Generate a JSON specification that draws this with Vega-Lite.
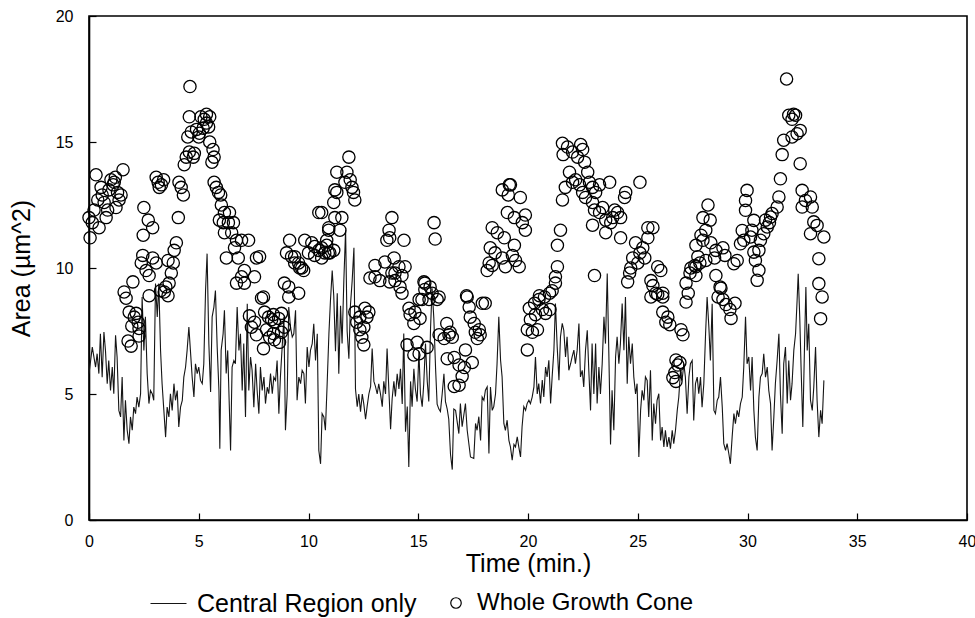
{
"$schema": "https://vega.github.io/schema/vega-lite/v6.json",
"width": 878, "height": 504,
"autosize": "none",
"padding": {"left": 89, "top": 16, "right": 8, "bottom": 98},
"background": "white",
"config": {
  "font": "Liberation Sans",
  "view": {"stroke": "black", "strokeWidth": 1.6},
  "axis": {"domainColor": "black", "domainWidth": 1.6, "tickColor": "black", "tickWidth": 1.2, "tickSize": -7, "grid": false,
    "labelFont": "Liberation Sans", "labelFontSize": 16, "labelColor": "black",
    "titleFont": "Liberation Sans", "titleFontSize": 25, "titleFontWeight": "normal", "titleColor": "black"}
},
"datasets": {
"line": [
{"t":0.00,"a":5.81},{"t":0.15,"a":6.86},{"t":0.30,"a":6.07},{"t":0.37,"a":6.6},{"t":0.45,"a":5.81},{"t":0.52,"a":7.39},{"t":0.60,"a":5.67},{"t":0.68,"a":7.46},{"t":0.75,"a":6.73},{"t":0.83,"a":5.41},{"t":0.90,"a":6.33},{"t":0.98,"a":5.14},{"t":1.06,"a":6.07},{"t":1.13,"a":5.01},{"t":1.21,"a":7.33},{"t":1.28,"a":6.47},{"t":1.36,"a":4.35},{"t":1.44,"a":4.09},{"t":1.51,"a":5.67},{"t":1.59,"a":3.16},{"t":1.66,"a":4.75},{"t":1.74,"a":3.56},{"t":1.82,"a":3.03},{"t":1.89,"a":4.09},{"t":1.97,"a":3.56},{"t":2.04,"a":4.48},{"t":2.12,"a":4.22},{"t":2.19,"a":4.88},{"t":2.27,"a":4.48},{"t":2.35,"a":5.01},{"t":2.42,"a":8.85},{"t":2.50,"a":6.73},{"t":2.57,"a":8.06},{"t":2.65,"a":5.81},{"t":2.73,"a":4.62},{"t":2.80,"a":5.14},{"t":2.88,"a":5.01},{"t":2.95,"a":4.75},{"t":3.03,"a":9.38},{"t":3.11,"a":8.06},{"t":3.18,"a":9.38},{"t":3.26,"a":6.73},{"t":3.33,"a":5.41},{"t":3.41,"a":4.35},{"t":3.49,"a":3.29},{"t":3.56,"a":4.48},{"t":3.64,"a":4.09},{"t":3.71,"a":5.01},{"t":3.79,"a":4.35},{"t":3.87,"a":5.41},{"t":3.94,"a":4.75},{"t":4.02,"a":5.14},{"t":4.09,"a":3.69},{"t":4.17,"a":4.48},{"t":4.25,"a":4.75},{"t":4.32,"a":5.67},{"t":4.40,"a":6.07},{"t":4.47,"a":6.73},{"t":4.55,"a":7.66},{"t":4.62,"a":6.73},{"t":4.70,"a":5.67},{"t":4.78,"a":4.88},{"t":4.85,"a":6.2},{"t":4.93,"a":5.81},{"t":5.00,"a":6.07},{"t":5.08,"a":5.54},{"t":5.16,"a":5.41},{"t":5.23,"a":6.2},{"t":5.31,"a":9.11},{"t":5.38,"a":10.57},{"t":5.46,"a":7.0},{"t":5.54,"a":5.08},{"t":5.61,"a":8.06},{"t":5.69,"a":8.45},{"t":5.76,"a":9.11},{"t":5.84,"a":6.86},{"t":5.92,"a":5.14},{"t":5.96,"a":2.83},{"t":6.02,"a":6.73},{"t":6.11,"a":7.39},{"t":6.17,"a":8.32},{"t":6.25,"a":5.81},{"t":6.32,"a":6.73},{"t":6.45,"a":2.76},{"t":6.52,"a":6.07},{"t":6.60,"a":6.33},{"t":6.67,"a":6.2},{"t":6.75,"a":8.45},{"t":6.83,"a":6.73},{"t":6.90,"a":7.39},{"t":6.98,"a":5.14},{"t":7.05,"a":7.0},{"t":7.13,"a":4.09},{"t":7.21,"a":8.58},{"t":7.28,"a":5.14},{"t":7.36,"a":6.47},{"t":7.43,"a":5.94},{"t":7.51,"a":4.48},{"t":7.59,"a":6.2},{"t":7.66,"a":5.14},{"t":7.74,"a":4.22},{"t":7.81,"a":6.07},{"t":7.89,"a":5.14},{"t":7.97,"a":5.67},{"t":8.04,"a":4.62},{"t":8.12,"a":5.27},{"t":8.19,"a":5.01},{"t":8.27,"a":5.81},{"t":8.35,"a":5.01},{"t":8.42,"a":5.67},{"t":8.50,"a":5.54},{"t":8.57,"a":6.33},{"t":8.65,"a":4.22},{"t":8.72,"a":5.67},{"t":8.80,"a":6.86},{"t":8.88,"a":8.06},{"t":8.95,"a":3.56},{"t":9.03,"a":5.01},{"t":9.10,"a":8.45},{"t":9.18,"a":7.66},{"t":9.26,"a":7.26},{"t":9.33,"a":7.39},{"t":9.41,"a":8.32},{"t":9.48,"a":4.75},{"t":9.56,"a":5.67},{"t":9.64,"a":5.41},{"t":9.71,"a":5.94},{"t":9.79,"a":5.81},{"t":9.86,"a":4.62},{"t":9.94,"a":6.86},{"t":10.02,"a":6.07},{"t":10.09,"a":6.73},{"t":10.17,"a":7.0},{"t":10.24,"a":7.79},{"t":10.32,"a":6.33},{"t":10.40,"a":7.39},{"t":10.47,"a":2.76},{"t":10.55,"a":2.23},{"t":10.62,"a":4.22},{"t":10.70,"a":4.09},{"t":10.77,"a":3.56},{"t":10.85,"a":5.41},{"t":10.93,"a":7.39},
{"t":11.00,"a":8.7},{"t":11.08,"a":9.9},{"t":11.15,"a":8.9},{"t":11.23,"a":6.7},{"t":11.31,"a":9.0},{"t":11.38,"a":5.8},{"t":11.46,"a":8.5},{"t":11.53,"a":7.0},{"t":11.61,"a":9.5},{"t":11.69,"a":11.5},{"t":11.76,"a":7.5},{"t":11.84,"a":6.4},{"t":11.91,"a":8.5},{"t":11.99,"a":9.5},{"t":12.07,"a":10.8},{"t":12.14,"a":5.2},{"t":12.22,"a":4.5},{"t":12.29,"a":5.0},{"t":12.37,"a":4.3},{"t":12.45,"a":5.0},{"t":12.52,"a":4.6},{"t":12.60,"a":4.0},{"t":12.67,"a":4.5},{"t":12.75,"a":5.0},{"t":12.83,"a":5.3},{"t":12.90,"a":6.8},{"t":12.98,"a":5.5},{"t":13.05,"a":5.3},{"t":13.13,"a":5.0},{"t":13.20,"a":5.4},{"t":13.28,"a":5.0},{"t":13.36,"a":4.5},{"t":13.43,"a":5.5},{"t":13.51,"a":5.0},{"t":13.58,"a":6.8},{"t":13.66,"a":5.2},{"t":13.74,"a":3.6},{"t":13.81,"a":4.8},{"t":13.89,"a":5.5},{"t":13.96,"a":4.9},{"t":14.04,"a":5.8},{"t":14.12,"a":5.2},{"t":14.19,"a":6.0},{"t":14.27,"a":4.6},{"t":14.34,"a":7.4},{"t":14.42,"a":3.5},{"t":14.50,"a":4.5},{"t":14.57,"a":2.1},{"t":14.65,"a":5.5},{"t":14.72,"a":4.5},{"t":14.80,"a":6.0},{"t":14.87,"a":5.2},{"t":14.95,"a":4.7},{"t":15.03,"a":6.7},{"t":15.10,"a":5.0},{"t":15.18,"a":4.5},{"t":15.25,"a":5.4},{"t":15.33,"a":7.0},{"t":15.41,"a":5.5},{"t":15.48,"a":4.7},{"t":15.56,"a":7.6},{"t":15.63,"a":9.2},{"t":15.71,"a":8.0},{"t":15.79,"a":6.0},{"t":15.86,"a":4.6},{"t":15.94,"a":4.4},{"t":16.01,"a":4.3},{"t":16.09,"a":5.0},{"t":16.17,"a":5.8},{"t":16.24,"a":4.7},{"t":16.32,"a":4.4},{"t":16.39,"a":4.0},{"t":16.47,"a":2.6},{"t":16.55,"a":2.0},{"t":16.62,"a":4.4},
{"t":16.70,"a":4.35},{"t":16.85,"a":3.43},{"t":16.92,"a":4.62},{"t":17.00,"a":3.7},{"t":17.15,"a":4.62},{"t":17.23,"a":3.56},{"t":17.38,"a":2.5},{"t":17.53,"a":2.44},{"t":17.61,"a":3.83},{"t":17.68,"a":3.56},{"t":17.76,"a":4.1},{"t":17.84,"a":3.16},{"t":17.91,"a":4.88},{"t":17.99,"a":4.75},{"t":18.06,"a":5.15},{"t":18.14,"a":5.28},{"t":18.22,"a":2.64},{"t":18.29,"a":5.28},{"t":18.37,"a":4.35},{"t":18.44,"a":4.5},{"t":18.52,"a":5.0},{"t":18.59,"a":6.2},{"t":18.67,"a":8.06},{"t":18.75,"a":6.34},{"t":18.82,"a":5.68},{"t":18.90,"a":3.83},{"t":18.97,"a":3.56},{"t":19.05,"a":3.96},{"t":19.13,"a":3.16},{"t":19.20,"a":2.9},{"t":19.28,"a":2.37},{"t":19.36,"a":3.0},{"t":19.43,"a":2.9},{"t":19.51,"a":3.3},{"t":19.58,"a":2.9},{"t":19.66,"a":2.5},{"t":19.73,"a":3.7},{"t":19.81,"a":4.5},{"t":19.89,"a":4.35},{"t":19.96,"a":4.62},{"t":20.04,"a":4.75},{"t":20.11,"a":4.62},{"t":20.19,"a":4.88},{"t":20.27,"a":5.28},{"t":20.34,"a":6.47},{"t":20.42,"a":5.0},{"t":20.49,"a":5.41},{"t":20.57,"a":4.62},{"t":20.65,"a":5.55},{"t":20.72,"a":4.88},{"t":20.80,"a":6.07},{"t":20.87,"a":5.68},{"t":20.95,"a":6.34},{"t":21.03,"a":4.62},{"t":21.10,"a":5.68},{"t":21.18,"a":6.74},{"t":21.25,"a":8.59},{"t":21.33,"a":6.87},{"t":21.41,"a":5.55},{"t":21.48,"a":7.27},{"t":21.56,"a":7.8},{"t":21.63,"a":7.53},{"t":21.71,"a":6.47},{"t":21.78,"a":7.27},{"t":21.86,"a":5.94},{"t":21.94,"a":6.2},{"t":22.01,"a":6.47},{"t":22.09,"a":6.74},{"t":22.16,"a":6.2},{"t":22.24,"a":6.74},{"t":22.32,"a":7.8},{"t":22.39,"a":5.68},{"t":22.47,"a":5.94},{"t":22.54,"a":5.28},{"t":22.62,"a":6.74},{"t":22.70,"a":7.53},{"t":22.77,"a":5.94},{"t":22.85,"a":4.35},{"t":22.92,"a":7.0},{"t":23.00,"a":5.0},{"t":23.08,"a":7.0},{"t":23.15,"a":4.62},{"t":23.23,"a":6.07},{"t":23.30,"a":5.0},{"t":23.38,"a":6.2},{"t":23.46,"a":8.06},{"t":23.53,"a":7.0},{"t":23.61,"a":9.78},{"t":23.68,"a":6.74},{"t":23.76,"a":3.0},{"t":23.83,"a":5.15},{"t":23.91,"a":3.56},{"t":23.99,"a":6.47},{"t":24.06,"a":7.27},{"t":24.14,"a":6.2},{"t":24.21,"a":7.0},{"t":24.29,"a":8.59},{"t":24.37,"a":6.74},{"t":24.44,"a":8.85},{"t":24.52,"a":5.41},{"t":24.59,"a":7.27},{"t":24.67,"a":6.2},{"t":24.75,"a":7.0},{"t":24.82,"a":5.68},{"t":24.90,"a":5.0},{"t":24.97,"a":5.41},{"t":25.05,"a":2.5},{"t":25.13,"a":4.35},{"t":25.20,"a":5.15},{"t":25.28,"a":4.75},{"t":25.35,"a":5.68},
{"t":25.43,"a":5.54},{"t":25.50,"a":4.09},{"t":25.58,"a":5.94},{"t":25.66,"a":3.16},{"t":25.73,"a":4.62},{"t":25.81,"a":3.82},{"t":25.88,"a":4.75},{"t":25.96,"a":5.01},{"t":26.04,"a":3.16},{"t":26.11,"a":3.69},{"t":26.19,"a":2.9},{"t":26.26,"a":3.56},{"t":26.34,"a":2.9},{"t":26.42,"a":3.29},{"t":26.49,"a":2.83},{"t":26.57,"a":3.56},{"t":26.64,"a":3.03},{"t":26.72,"a":3.56},{"t":26.80,"a":4.35},{"t":26.87,"a":4.88},{"t":26.95,"a":5.94},{"t":27.02,"a":5.54},{"t":27.10,"a":6.2},{"t":27.17,"a":5.67},{"t":27.25,"a":4.22},{"t":27.33,"a":5.67},{"t":27.40,"a":6.2},{"t":27.48,"a":6.33},{"t":27.55,"a":3.95},{"t":27.63,"a":5.41},{"t":27.71,"a":5.67},{"t":27.78,"a":5.01},{"t":27.86,"a":5.67},{"t":27.93,"a":4.48},{"t":28.01,"a":5.41},{"t":28.09,"a":7.39},{"t":28.16,"a":8.85},{"t":28.24,"a":7.66},{"t":28.31,"a":6.33},{"t":28.39,"a":8.58},{"t":28.47,"a":4.35},{"t":28.54,"a":4.22},{"t":28.62,"a":4.75},{"t":28.69,"a":4.88},{"t":28.77,"a":5.67},{"t":28.85,"a":4.48},{"t":28.92,"a":3.03},{"t":29.00,"a":2.76},{"t":29.07,"a":3.03},{"t":29.15,"a":2.63},{"t":29.22,"a":2.23},{"t":29.30,"a":3.29},{"t":29.38,"a":4.22},{"t":29.45,"a":3.82},{"t":29.53,"a":4.35},{"t":29.60,"a":4.09},{"t":29.68,"a":4.62},{"t":29.76,"a":4.88},{"t":29.83,"a":6.07},{"t":29.91,"a":8.06},{"t":29.98,"a":6.2},{"t":30.06,"a":6.47},{"t":30.14,"a":5.14},{"t":30.21,"a":6.47},{"t":30.29,"a":4.35},{"t":30.36,"a":3.29},{"t":30.44,"a":2.76},{"t":30.52,"a":4.88},{"t":30.59,"a":5.67},{"t":30.67,"a":5.81},{"t":30.74,"a":6.6},{"t":30.82,"a":5.67},{"t":30.90,"a":6.07},{"t":30.97,"a":5.14},{"t":31.05,"a":4.62},{"t":31.12,"a":2.76},{"t":31.20,"a":4.09},{"t":31.27,"a":5.41},{"t":31.35,"a":6.33},{"t":31.43,"a":7.39},{"t":31.50,"a":5.01},{"t":31.58,"a":3.42},{"t":31.65,"a":6.2},{"t":31.73,"a":6.86},{"t":31.81,"a":4.62},{"t":31.88,"a":6.33},{"t":31.96,"a":4.75},{"t":32.03,"a":5.41},{"t":32.11,"a":6.73},{"t":32.19,"a":7.39},{"t":32.26,"a":8.72},{"t":32.31,"a":9.77},{"t":32.38,"a":8.06},{"t":32.44,"a":6.07},{"t":32.52,"a":3.69},{"t":32.60,"a":7.0},{"t":32.66,"a":9.25},{"t":32.72,"a":6.73},{"t":32.79,"a":7.79},{"t":32.87,"a":4.75},{"t":32.95,"a":4.35},{"t":33.02,"a":5.28},{"t":33.10,"a":6.86},{"t":33.17,"a":4.75},{"t":33.25,"a":3.29},{"t":33.33,"a":4.35},{"t":33.40,"a":3.82},{"t":33.48,"a":5.54}
],
"pts": [
{"t":0.0,"a":12.0},{"t":0.05,"a":11.2},{"t":0.15,"a":11.8},{"t":0.23,"a":12.3},{"t":0.32,"a":13.7},{"t":0.4,"a":12.7},{"t":0.46,"a":11.6},{"t":0.55,"a":13.2},{"t":0.6,"a":12.9},{"t":0.69,"a":12.6},{"t":0.78,"a":12.0},{"t":0.85,"a":12.3},{"t":0.91,"a":13.1},{"t":1.0,"a":13.5},{"t":1.1,"a":13.3},{"t":1.15,"a":13.4},{"t":1.2,"a":13.6},{"t":1.23,"a":12.4},{"t":1.3,"a":13.0},{"t":1.37,"a":12.7},{"t":1.46,"a":12.9},{"t":1.55,"a":13.9},
{"t":1.6,"a":9.05},{"t":1.69,"a":8.8},{"t":1.83,"a":8.25},{"t":2.06,"a":8.05},{"t":2.24,"a":7.85},{"t":2.28,"a":7.6},{"t":1.78,"a":7.1},{"t":1.92,"a":6.9},{"t":2.0,"a":9.45},{"t":2.28,"a":7.3},{"t":2.15,"a":8.2},{"t":1.95,"a":7.7},
{"t":2.5,"a":12.4},{"t":2.7,"a":11.9},{"t":2.9,"a":11.6},{"t":2.47,"a":11.3},{"t":2.38,"a":10.2},{"t":2.6,"a":9.9},{"t":2.74,"a":9.7},{"t":2.9,"a":10.4},{"t":3.06,"a":10.2},{"t":2.74,"a":8.9},{"t":3.06,"a":13.6},{"t":3.15,"a":13.4},{"t":3.3,"a":13.3},{"t":3.4,"a":13.5},{"t":3.2,"a":13.2},{"t":3.43,"a":9.05},{"t":3.6,"a":8.9},{"t":3.5,"a":9.25},{"t":3.65,"a":9.4},{"t":3.75,"a":9.8},{"t":3.84,"a":10.2},{"t":3.88,"a":10.7},{"t":3.98,"a":11.0},{"t":4.07,"a":12.0},{"t":2.45,"a":10.5},{"t":3.26,"a":9.1},{"t":3.6,"a":10.3},
{"t":4.1,"a":13.4},{"t":4.2,"a":13.2},{"t":4.3,"a":12.9},{"t":4.34,"a":14.1},{"t":4.43,"a":14.4},{"t":4.57,"a":14.6},{"t":4.75,"a":14.4},{"t":4.6,"a":17.2},{"t":4.57,"a":16.0},{"t":5.1,"a":16.0},{"t":5.35,"a":16.1},{"t":5.5,"a":16.0},{"t":4.5,"a":15.2},{"t":4.66,"a":15.4},{"t":4.9,"a":15.5},{"t":5.03,"a":15.35},{"t":5.2,"a":15.55},{"t":5.35,"a":15.75},{"t":5.45,"a":15.6},{"t":5.5,"a":15.0},{"t":5.65,"a":14.7},{"t":5.7,"a":14.4},{"t":5.6,"a":14.2},{"t":4.8,"a":14.55},{"t":5.25,"a":15.9},{"t":5.0,"a":15.2},
{"t":5.7,"a":13.4},{"t":5.9,"a":13.0},{"t":6.03,"a":12.5},{"t":6.17,"a":12.2},{"t":6.4,"a":12.2},{"t":5.94,"a":11.9},{"t":6.12,"a":11.8},{"t":6.35,"a":11.8},{"t":6.58,"a":11.8},{"t":6.17,"a":11.4},{"t":6.5,"a":11.4},{"t":6.72,"a":11.1},{"t":6.95,"a":11.1},{"t":7.27,"a":11.1},{"t":6.26,"a":10.4},{"t":6.63,"a":10.8},{"t":6.8,"a":10.4},{"t":7.08,"a":9.9},{"t":6.95,"a":9.65},{"t":6.72,"a":9.4},{"t":7.08,"a":9.4},{"t":7.54,"a":9.65},{"t":7.63,"a":10.4},{"t":7.77,"a":10.45},{"t":7.95,"a":8.85},{"t":7.86,"a":8.8},{"t":5.8,"a":13.2},{"t":6.0,"a":12.9},
{"t":7.31,"a":8.1},{"t":7.54,"a":7.85},{"t":7.4,"a":7.65},{"t":7.63,"a":7.35},{"t":8.0,"a":8.25},{"t":8.18,"a":8.05},{"t":8.32,"a":7.95},{"t":8.4,"a":8.15},{"t":8.45,"a":7.85},{"t":8.64,"a":8.0},{"t":8.77,"a":8.2},{"t":8.09,"a":7.55},{"t":8.23,"a":7.25},{"t":8.45,"a":7.15},{"t":8.77,"a":7.45},{"t":8.9,"a":7.65},{"t":7.95,"a":6.8},{"t":8.4,"a":7.4},{"t":8.68,"a":7.05},{"t":8.9,"a":9.4},{"t":9.1,"a":9.25},{"t":9.55,"a":9.0},{"t":9.1,"a":8.85},
{"t":9.0,"a":10.6},{"t":9.37,"a":10.45},{"t":9.55,"a":10.2},{"t":9.69,"a":10.0},{"t":10.0,"a":10.6},{"t":10.28,"a":10.5},{"t":10.6,"a":10.4},{"t":10.9,"a":10.6},{"t":9.14,"a":11.1},{"t":9.23,"a":10.45},{"t":9.37,"a":10.2},{"t":9.6,"a":10.0},{"t":9.78,"a":9.9},{"t":9.83,"a":11.1},{"t":10.15,"a":11.0},{"t":10.28,"a":10.85},{"t":10.47,"a":10.7},{"t":10.6,"a":10.8},{"t":10.83,"a":10.9},{"t":10.97,"a":10.6},{"t":10.47,"a":12.2},{"t":10.92,"a":11.5},
{"t":11.2,"a":13.1},{"t":10.6,"a":12.2},{"t":10.92,"a":11.6},{"t":11.2,"a":12.0},{"t":11.43,"a":11.5},{"t":10.83,"a":11.1},{"t":11.15,"a":10.7},{"t":10.74,"a":10.6},{"t":11.52,"a":12.0},{"t":11.29,"a":13.0},{"t":11.29,"a":13.8},{"t":11.75,"a":13.8},{"t":11.84,"a":14.4},{"t":11.98,"a":13.2},{"t":12.11,"a":12.7},{"t":11.15,"a":12.6},{"t":11.66,"a":13.4},{"t":11.9,"a":13.5},{"t":12.05,"a":13.0},
{"t":12.11,"a":8.25},{"t":12.34,"a":8.05},{"t":12.57,"a":8.4},{"t":12.75,"a":8.25},{"t":12.2,"a":7.85},{"t":12.34,"a":7.55},{"t":12.43,"a":7.25},{"t":12.52,"a":6.95},{"t":12.66,"a":8.05},{"t":12.52,"a":7.65},
{"t":12.8,"a":9.6},{"t":13.03,"a":9.65},{"t":13.25,"a":9.5},{"t":13.48,"a":10.24},{"t":13.9,"a":10.4},{"t":14.12,"a":10.05},{"t":14.26,"a":9.7},{"t":14.4,"a":10.05},{"t":14.17,"a":9.25},{"t":13.7,"a":9.45},{"t":13.94,"a":9.8},{"t":13.03,"a":10.1},{"t":14.26,"a":9.0},{"t":13.8,"a":9.8},{"t":13.94,"a":9.5},{"t":13.8,"a":12.0},{"t":13.67,"a":11.5},{"t":13.57,"a":11.1},{"t":14.35,"a":11.1},{"t":13.7,"a":11.2},
{"t":14.58,"a":8.4},{"t":14.63,"a":8.15},{"t":14.85,"a":8.25},{"t":15.08,"a":8.0},{"t":15.04,"a":8.75},{"t":15.26,"a":9.45},{"t":15.3,"a":9.15},{"t":15.54,"a":9.25},{"t":15.17,"a":8.75},{"t":15.49,"a":8.75},{"t":15.86,"a":8.75},{"t":15.63,"a":9.0},{"t":14.8,"a":7.8},{"t":14.49,"a":6.95},{"t":14.95,"a":7.05},{"t":14.8,"a":6.55},{"t":15.04,"a":6.6},{"t":15.4,"a":6.85},{"t":15.95,"a":7.35},{"t":16.18,"a":7.2},{"t":16.4,"a":7.35},{"t":16.45,"a":7.45},{"t":16.3,"a":7.8},{"t":16.55,"a":7.25},{"t":15.72,"a":11.8},{"t":15.77,"a":11.15},{"t":15.3,"a":9.4},{"t":15.95,"a":8.85},
{"t":16.32,"a":6.4},{"t":16.64,"a":6.45},{"t":17.15,"a":6.75},{"t":17.46,"a":6.25},{"t":16.86,"a":6.15},{"t":16.64,"a":5.3},{"t":16.86,"a":5.35},{"t":17.0,"a":5.7},{"t":17.1,"a":6.05},{"t":17.23,"a":8.85},{"t":17.32,"a":8.45},{"t":17.37,"a":8.05},{"t":17.55,"a":7.8},{"t":17.6,"a":7.45},{"t":17.69,"a":7.2},{"t":17.82,"a":7.35},{"t":17.92,"a":8.6},{"t":18.05,"a":8.6},{"t":17.78,"a":7.55},{"t":17.2,"a":8.9},
{"t":18.83,"a":13.1},{"t":19.2,"a":13.3},{"t":19.65,"a":12.8},{"t":19.06,"a":12.2},{"t":19.38,"a":12.0},{"t":19.88,"a":12.1},{"t":19.74,"a":11.8},{"t":19.88,"a":11.5},{"t":18.37,"a":11.6},{"t":18.6,"a":11.4},{"t":18.92,"a":11.2},{"t":19.38,"a":10.9},{"t":18.28,"a":10.8},{"t":18.5,"a":10.6},{"t":18.83,"a":10.4},{"t":18.23,"a":10.2},{"t":18.14,"a":9.9},{"t":18.97,"a":10.05},{"t":19.43,"a":10.3},{"t":19.6,"a":10.05},{"t":18.37,"a":10.1},{"t":19.29,"a":10.5},{"t":19.1,"a":12.9},{"t":19.15,"a":13.3},
{"t":19.97,"a":7.55},{"t":20.2,"a":7.45},{"t":20.43,"a":7.55},{"t":19.97,"a":6.75},{"t":20.06,"a":8.4},{"t":20.3,"a":8.6},{"t":20.5,"a":8.75},{"t":20.75,"a":8.85},{"t":20.98,"a":9.0},{"t":21.1,"a":9.1},{"t":21.25,"a":9.4},{"t":21.25,"a":9.65},{"t":21.34,"a":10.05},{"t":20.66,"a":8.35},{"t":20.8,"a":8.2},{"t":21.0,"a":8.35},{"t":20.34,"a":8.15},{"t":20.11,"a":7.95},{"t":21.34,"a":10.9},{"t":21.48,"a":11.5},{"t":21.57,"a":12.7},{"t":20.52,"a":8.9},
{"t":21.57,"a":14.95},{"t":21.8,"a":14.8},{"t":22.03,"a":14.6},{"t":22.4,"a":14.9},{"t":22.49,"a":14.7},{"t":22.26,"a":14.4},{"t":22.58,"a":14.2},{"t":21.89,"a":13.8},{"t":22.03,"a":13.4},{"t":22.17,"a":13.5},{"t":22.35,"a":13.3},{"t":22.72,"a":13.8},{"t":22.8,"a":13.4},{"t":21.7,"a":13.2},{"t":22.49,"a":13.0},{"t":22.94,"a":13.2},{"t":23.08,"a":13.0},{"t":23.26,"a":13.3},{"t":23.72,"a":13.4},{"t":22.62,"a":12.8},{"t":22.94,"a":12.6},{"t":23.03,"a":12.3},{"t":23.26,"a":12.2},{"t":23.4,"a":12.4},{"t":23.54,"a":11.9},{"t":23.86,"a":12.0},{"t":23.95,"a":12.3},{"t":24.08,"a":12.2},{"t":24.22,"a":12.0},{"t":23.77,"a":11.8},{"t":23.54,"a":11.4},{"t":24.22,"a":11.2},{"t":24.4,"a":12.8},{"t":24.45,"a":13.0},{"t":25.1,"a":13.4},{"t":22.94,"a":11.7},{"t":23.03,"a":9.7},{"t":21.6,"a":14.5},
{"t":25.46,"a":11.6},{"t":25.69,"a":11.6},{"t":25.46,"a":11.2},{"t":24.9,"a":11.0},{"t":25.23,"a":10.8},{"t":25.1,"a":10.6},{"t":24.77,"a":10.4},{"t":25.32,"a":10.4},{"t":25.0,"a":10.2},{"t":24.68,"a":10.0},{"t":24.63,"a":9.8},{"t":24.54,"a":9.45},{"t":25.6,"a":9.5},{"t":25.91,"a":10.05},{"t":26.05,"a":9.9},{"t":25.69,"a":9.3},{"t":25.82,"a":9.0},{"t":26.14,"a":9.0},{"t":25.6,"a":8.85},{"t":25.91,"a":8.95},{"t":26.14,"a":8.85},{"t":26.14,"a":8.25},{"t":26.37,"a":8.05},{"t":26.46,"a":7.75},{"t":26.28,"a":7.85},{"t":26.97,"a":7.55},{"t":27.06,"a":7.35},{"t":26.74,"a":6.35},{"t":26.83,"a":6.15},{"t":26.69,"a":5.85},{"t":26.74,"a":5.5},{"t":26.92,"a":6.25},{"t":26.6,"a":5.65},
{"t":27.2,"a":8.65},{"t":27.3,"a":9.0},{"t":27.2,"a":9.4},{"t":27.38,"a":9.8},{"t":27.42,"a":10.0},{"t":27.65,"a":10.05},{"t":27.65,"a":9.7},{"t":27.83,"a":10.2},{"t":28.1,"a":10.3},{"t":28.5,"a":10.4},{"t":28.56,"a":9.7},{"t":28.75,"a":9.25},{"t":28.66,"a":8.85},{"t":28.88,"a":8.75},{"t":29.02,"a":8.55},{"t":29.2,"a":8.35},{"t":29.25,"a":8.0},{"t":29.43,"a":8.6},{"t":28.2,"a":12.5},{"t":27.97,"a":12.0},{"t":28.3,"a":11.9},{"t":28.1,"a":11.5},{"t":27.88,"a":11.3},{"t":27.65,"a":10.9},{"t":27.97,"a":11.1},{"t":28.33,"a":11.0},{"t":28.56,"a":10.7},{"t":28.88,"a":10.8},{"t":28.97,"a":10.5},{"t":27.74,"a":10.45},{"t":27.6,"a":10.1},{"t":28.79,"a":9.2},
{"t":31.78,"a":17.5},{"t":31.88,"a":16.06},{"t":32.19,"a":16.06},{"t":32.03,"a":15.9},{"t":32.1,"a":16.1},{"t":31.65,"a":15.07},{"t":32.03,"a":15.2},{"t":32.26,"a":15.33},{"t":32.4,"a":15.46},{"t":31.58,"a":14.5},{"t":32.4,"a":14.14},{"t":31.5,"a":13.54},{"t":31.43,"a":12.82},{"t":31.35,"a":12.42},{"t":31.12,"a":12.16},{"t":31.05,"a":12.02},{"t":30.9,"a":11.63},{"t":30.74,"a":11.36},{"t":30.59,"a":11.1},{"t":30.82,"a":11.9},{"t":29.98,"a":13.08},{"t":29.91,"a":12.68},{"t":29.91,"a":12.29},{"t":30.29,"a":11.89},{"t":29.76,"a":11.49},{"t":29.83,"a":11.1},{"t":30.14,"a":11.23},{"t":30.29,"a":10.63},{"t":30.52,"a":10.7},{"t":30.36,"a":10.3},{"t":30.52,"a":9.91},{"t":30.44,"a":9.51},{"t":29.38,"a":10.17},{"t":29.53,"a":10.3},{"t":29.68,"a":10.96},{"t":32.49,"a":13.08},{"t":32.64,"a":12.68},{"t":32.87,"a":12.82},{"t":32.95,"a":12.42},{"t":32.49,"a":12.42},{"t":33.02,"a":11.83},{"t":33.17,"a":11.69},{"t":32.87,"a":11.36},{"t":33.48,"a":11.23},{"t":33.25,"a":10.37},{"t":33.25,"a":9.38},{"t":33.4,"a":8.85},{"t":33.33,"a":7.99},{"t":31.0,"a":11.8},{"t":30.2,"a":11.5}
]
},
"layer": [
  {
    "data": {"name": "line"},
    "mark": {"type": "line", "strokeWidth": 1.1},
    "encoding": {
      "x": {"field": "t", "type": "quantitative", "scale": {"domain": [0, 40], "nice": false},
        "axis": {"values": [0,5,10,15,20,25,30,35,40], "title": "Time (min.)", "labelPadding": 20, "titlePadding": 2, "labelFlush": false, "labelOverlap": false}},
      "y": {"field": "a", "type": "quantitative", "scale": {"domain": [0, 20], "nice": false},
        "axis": {"values": [0,5,10,15,20], "title": "Area (µm^2)", "labelPadding": 23, "titlePadding": 21}},
      "stroke": {"datum": "Central Region only", "type": "nominal", "scale": {"range": ["#151515"]},
        "legend": {"orient": "none", "legendX": 61, "legendY": 569, "title": null, "symbolType": "stroke", "symbolSize": 1296, "symbolStrokeWidth": 1,
          "labelFont": "Liberation Sans", "labelFontSize": 25, "labelColor": "black", "labelOffset": 10, "labelLimit": 0,
          "encode": {"symbols": {"update": {"stroke": {"value": "#8a8a8a"}}}}}}
    }
  },
  {
    "data": {"name": "pts"},
    "mark": {"type": "point", "shape": "circle", "filled": false, "size": 150, "color": "black", "strokeWidth": 1.3, "opacity": 1},
    "encoding": {
      "x": {"field": "t", "type": "quantitative"},
      "y": {"field": "a", "type": "quantitative"},
      "shape": {"datum": "Whole Growth Cone", "type": "nominal", "scale": {"range": ["circle"]},
        "legend": {"orient": "none", "legendX": 355, "legendY": 575, "title": null, "symbolSize": 110, "symbolStrokeWidth": 1.2, "symbolStrokeColor": "black", "symbolFillColor": "transparent",
          "labelFont": "Liberation Sans", "labelFontSize": 24, "labelColor": "black", "labelOffset": 9, "labelLimit": 0}}
    }
  }
]
}
